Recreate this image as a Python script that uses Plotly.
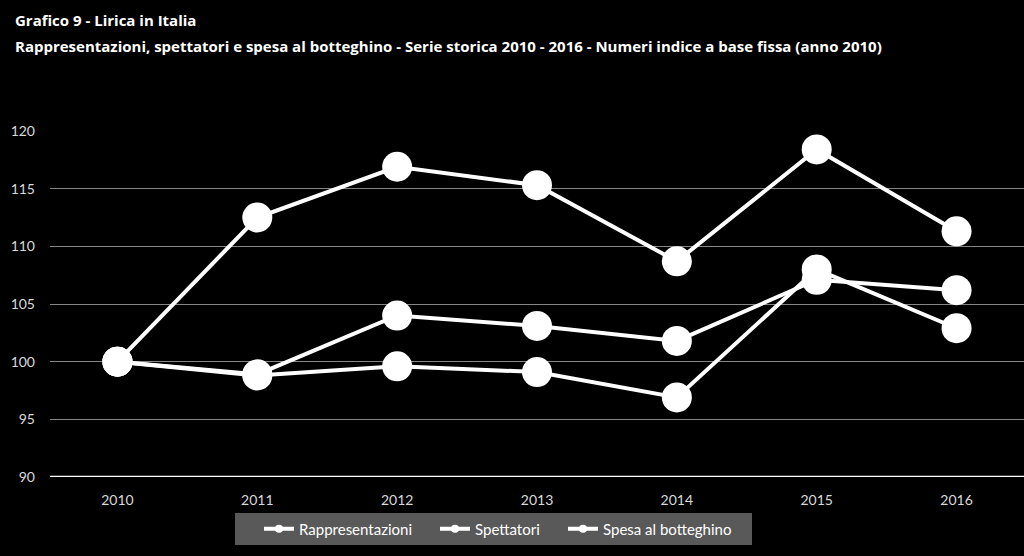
import plotly.graph_objects as go

years = ["2010", "2011", "2012", "2013", "2014", "2015", "2016"]
rappresentazioni = [100, 98.8, 99.6, 99.1, 96.9, 108.0, 102.9]
spettatori = [100, 98.9, 104.0, 103.1, 101.8, 107.1, 106.2]
spesa = [100, 112.5, 116.9, 115.3, 108.7, 118.4, 111.3]
series_names = ["Rappresentazioni", "Spettatori", "Spesa al botteghino"]
y_ticks = [90, 95, 100, 105, 110, 115, 120]

# layout geometry (pixels)
L, T, B, W, H = 50, 131, 79, 1024, 556
PW, PH = W - L, H - T - B


def px_x(p):
    return (p - L) / PW


def px_y(p):
    return (H - B - p) / PH


fig = go.Figure()
for name, vals in zip(series_names, [rappresentazioni, spettatori, spesa]):
    fig.add_trace(go.Scatter(
        x=years, y=vals, mode="lines+markers", name=name, showlegend=False,
        line=dict(color="white", width=4),
        marker=dict(color="white", size=30),
        cliponaxis=False,
    ))

legend_ids = ["legend", "legend2", "legend3"]
legend_left = [259, 435, 563]
for name, lid in zip(series_names, legend_ids):
    fig.add_trace(go.Scatter(
        x=[None], y=[None], mode="lines+markers", name=name, legend=lid,
        line=dict(color="white", width=4),
        marker=dict(color="white", size=8),
    ))

legend_common = dict(orientation="h", yanchor="middle", y=px_y(529), xanchor="left",
                     bgcolor="rgba(0,0,0,0)", font=dict(size=15, color="white"))

fig.update_layout(
    width=W, height=H,
    paper_bgcolor="black", plot_bgcolor="black",
    margin=dict(l=L, r=0, t=T, b=B),
    font=dict(family="Lato, Open Sans, sans-serif", color="#d9d9d9", size=14),
    xaxis=dict(type="category", showgrid=False, showline=False, zeroline=False,
               ticks="", tickfont=dict(size=14, color="#d9d9d9"),
               ticklabelstandoff=13, fixedrange=True),
    yaxis=dict(range=[90, 120], tickvals=y_ticks, showgrid=True,
               gridcolor="#868686", gridwidth=1, zeroline=False,
               showline=False, ticks="", tickfont=dict(size=14, color="#d9d9d9"),
               ticklabelstandoff=14),
    legend=dict(x=px_x(legend_left[0]), **legend_common),
    legend2=dict(x=px_x(legend_left[1]), **legend_common),
    legend3=dict(x=px_x(legend_left[2]), **legend_common),
    shapes=[
        dict(type="rect", xref="paper", yref="paper", layer="below",
             x0=px_x(235), x1=px_x(752), y0=px_y(545), y1=px_y(513),
             fillcolor="#595959", line=dict(width=0)),
        dict(type="line", xref="paper", yref="y", x0=0, x1=1, y0=90, y1=90,
             line=dict(color="white", width=2.5)),
    ],
    annotations=[
        dict(text="<b>Grafico 9 - Lirica in Italia</b>", xref="paper", yref="paper",
             x=px_x(13), y=px_y(20), xanchor="left", yanchor="middle", showarrow=False,
             font=dict(size=15, color="white", family="Open Sans, sans-serif")),
        dict(text="<b>Rappresentazioni, spettatori e spesa al botteghino - Serie storica 2010 - 2016 - Numeri indice a base fissa (anno 2010)</b>",
             xref="paper", yref="paper",
             x=px_x(13), y=px_y(46), xanchor="left", yanchor="middle", showarrow=False,
             font=dict(size=15, color="white", family="Open Sans, sans-serif")),
    ],
)

fig.write_html("out.html")
